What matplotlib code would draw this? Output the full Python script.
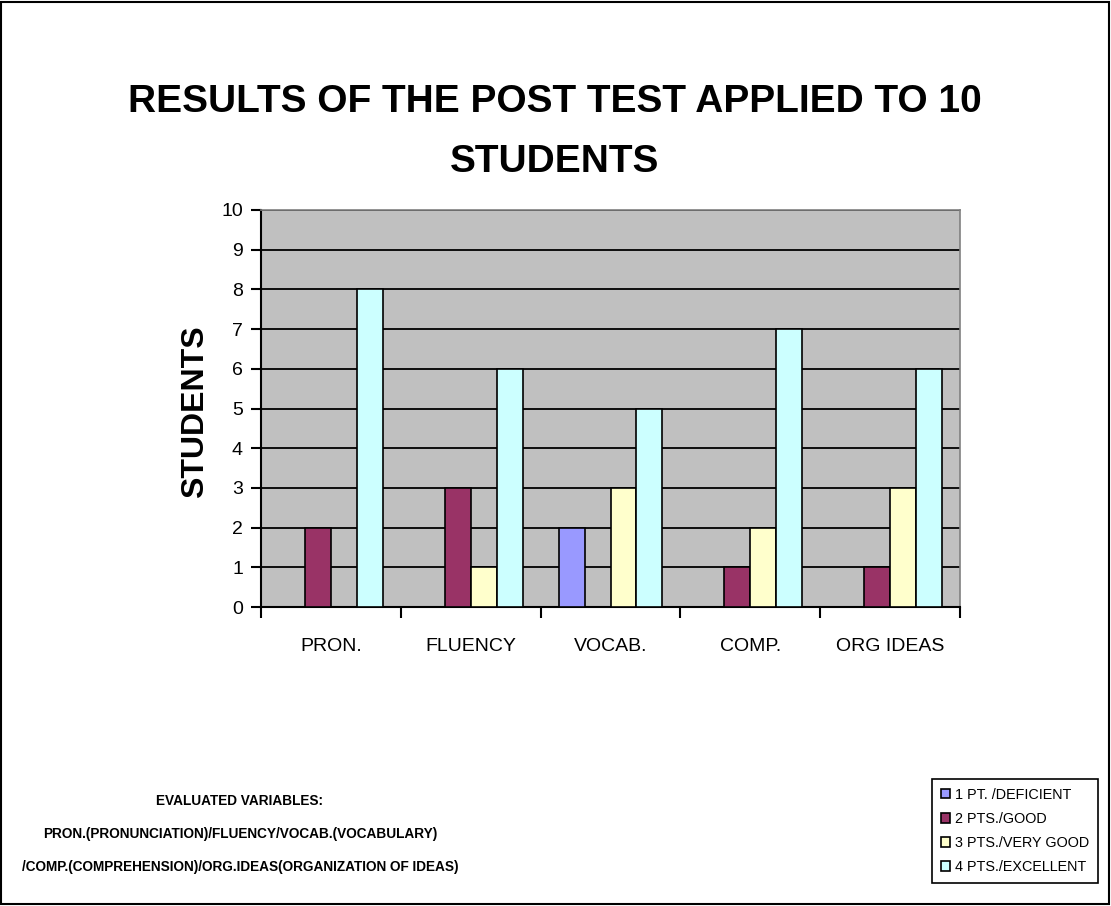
import numpy as np
import matplotlib
matplotlib.use('Agg')
import matplotlib.pyplot as plt
from matplotlib.patches import Rectangle

plt.rcParams['font.family'] = ['Liberation Sans', 'DejaVu Sans']

# Datos
categorias = ['PRON.', 'FLUENCY', 'VOCAB.', 'COMP.', 'ORG IDEAS']
series = ['1 PT. /DEFICIENT', '2 PTS./GOOD', '3 PTS./VERY GOOD', '4 PTS./EXCELLENT']
pt1 = [0, 0, 2, 0, 0]
pt2 = [2, 3, 0, 1, 1]
pt3 = [0, 1, 3, 2, 3]
pt4 = [8, 6, 5, 7, 6]
colores = ['#9999FF', '#993366', '#FFFFCC', '#CCFFFF']
titulo = ['RESULTS OF THE POST TEST APPLIED TO 10', 'STUDENTS']
nota = ['EVALUATED VARIABLES:',
        'PRON.(PRONUNCIATION)/FLUENCY/VOCAB.(VOCABULARY)',
        '/COMP.(COMPREHENSION)/ORG.IDEAS(ORGANIZATION OF IDEAS)']

W, H = 1111, 906
fig = plt.figure(figsize=(W / 100, H / 100), dpi=100)
fig.patches.append(Rectangle((0.001, 0.002), 0.997, 0.996, transform=fig.transFigure,
                             fill=False, edgecolor='black', linewidth=1.5))

ax = fig.add_axes([261 / W, 1 - 607 / H, 699 / W, 397 / H])
ax.set_facecolor('#C0C0C0')

x = np.arange(len(categorias))
w = 26 / 140
for i, (vals, c) in enumerate(zip([pt1, pt2, pt3, pt4], colores)):
    ax.bar(x + (i - 1.5) * w, vals, width=w, color=c, edgecolor='black',
           linewidth=1.2, label=series[i], zorder=3)

ax.set_xlim(-0.5, len(categorias) - 0.5)
ax.set_ylim(0, 10)
ax.set_yticks(range(0, 11))
ax.yaxis.grid(True, color='black', linewidth=1.3, zorder=1)
ax.set_axisbelow(True)
ax.set_xticks(np.arange(-0.5, len(categorias), 1.0))
ax.set_xticklabels([])
ax.set_xticks(x, minor=True)
ax.set_xticklabels(categorias, minor=True)
ax.tick_params(axis='x', which='major', length=8, width=1.5, direction='out')
ax.tick_params(axis='x', which='minor', length=0, pad=22, labelsize=14)
ax.tick_params(axis='y', length=7, width=1.5, labelsize=14, pad=6)

for s in ['top', 'right']:
    ax.spines[s].set_color('#808080')
    ax.spines[s].set_linewidth(1.2)
for s in ['left', 'bottom']:
    ax.spines[s].set_color('black')
    ax.spines[s].set_linewidth(1.5)

fig.text(195 / W, 1 - 412 / H, 'STUDENTS', rotation=90, ha='center', va='center',
         fontsize=23, fontweight='bold')

for txt, yy in zip(titulo, [102, 162]):
    fig.text(555 / W, 1 - yy / H, txt, ha='center', va='center',
             fontsize=28, fontweight='bold')

for txt, yy in zip(nota, [801, 834, 867]):
    fig.text(240 / W, 1 - yy / H, txt, ha='center', va='center',
             fontsize=9.8, fontweight='bold')

leg = fig.legend(loc='upper left', bbox_to_anchor=(932 / W, 1 - 779 / H), fontsize=10.4,
                 frameon=True, fancybox=False, edgecolor='black', framealpha=1,
                 handlelength=0.65, handleheight=0.65, handletextpad=0.35,
                 labelspacing=0.7, borderpad=0.6, borderaxespad=0)
leg.get_frame().set_linewidth(1.2)

fig.savefig('out.png', dpi=100)
